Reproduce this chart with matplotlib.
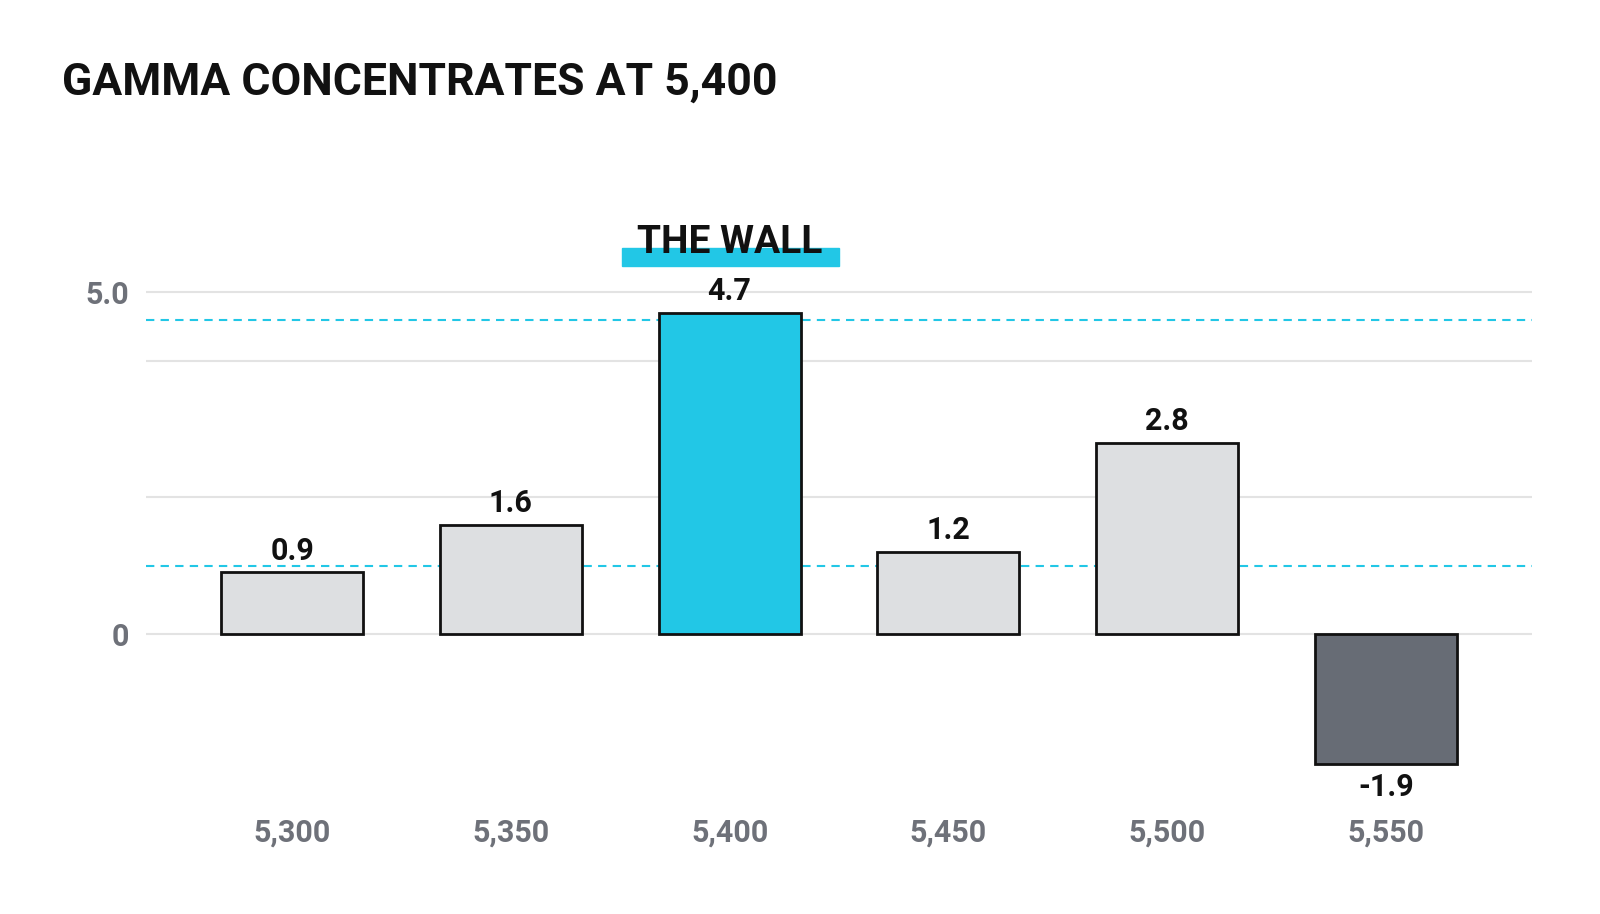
import matplotlib
matplotlib.use("Agg")
import matplotlib.pyplot as plt
from matplotlib.patches import Rectangle

strikes = ["5,300", "5,350", "5,400", "5,450", "5,500", "5,550"]
gamma = [0.9, 1.6, 4.7, 1.2, 2.8, -1.9]
value_labels = ["0.9", "1.6", "4.7", "1.2", "2.8", "-1.9"]
ref_lines = [4.6, 1.0]
grid_vals = [0, 2, 4, 5]

plt.rcParams['font.family'] = ['Roboto', 'DejaVu Sans']
CYAN = "#22C7E6"
fig = plt.figure(figsize=(16, 9.14), dpi=100)
ax = fig.add_axes([0.0913, 0.1346, 0.866, 0.583])
ax.set_xlim(-0.668, 5.667)
ax.set_ylim(-2.3, 5.5)

for g in grid_vals:
    ax.axhline(g, color="#E3E3E3", lw=1.5, zorder=0)
for r in ref_lines:
    ax.axhline(r, color=CYAN, lw=1.5, ls=(0, (4, 3)), zorder=1)

colors = []
for i, v in enumerate(gamma):
    if i == 2:
        colors.append(CYAN)
    elif v < 0:
        colors.append("#676C75")
    else:
        colors.append("#DDDFE1")
x = list(range(len(strikes)))
ax.bar(x, gamma, width=0.65, color=colors, edgecolor="#111111", linewidth=2, zorder=2)
for xi, v, lab in zip(x, gamma, value_labels):
    if v >= 0:
        ax.text(xi, v + 0.1, lab, ha="center", va="bottom", fontsize=22, fontweight="bold", color="#111111")
    else:
        ax.text(xi, v - 0.12, lab, ha="center", va="top", fontsize=22, fontweight="bold", color="#111111")

ax.set_yticks([0, 5])
ax.set_yticklabels(["0", "5.0"])
ax.set_xticks(x)
ax.set_xticklabels(strikes)
ax.tick_params(length=0, labelsize=22, labelcolor="#6E7179", pad=12)
ax.tick_params(axis="x", pad=19)
for lab in ax.get_xticklabels() + ax.get_yticklabels():
    lab.set_fontweight("bold")
for s in ax.spines.values():
    s.set_visible(False)

# THE WALL annotation
ax.add_patch(Rectangle((1.508, 5.38), 0.99, 0.27, color=CYAN, clip_on=False, zorder=3))
ax.text(2, 5.73, "THE WALL", ha="center", va="center", fontsize=28, fontweight="bold",
        color="#111111", zorder=4, clip_on=False)

fig.text(0.039, 0.91, "GAMMA CONCENTRATES AT 5,400", fontsize=32, fontweight="bold",
         color="#111111", va="center", ha="left")
fig.savefig("out.png", dpi=100, facecolor="white")
